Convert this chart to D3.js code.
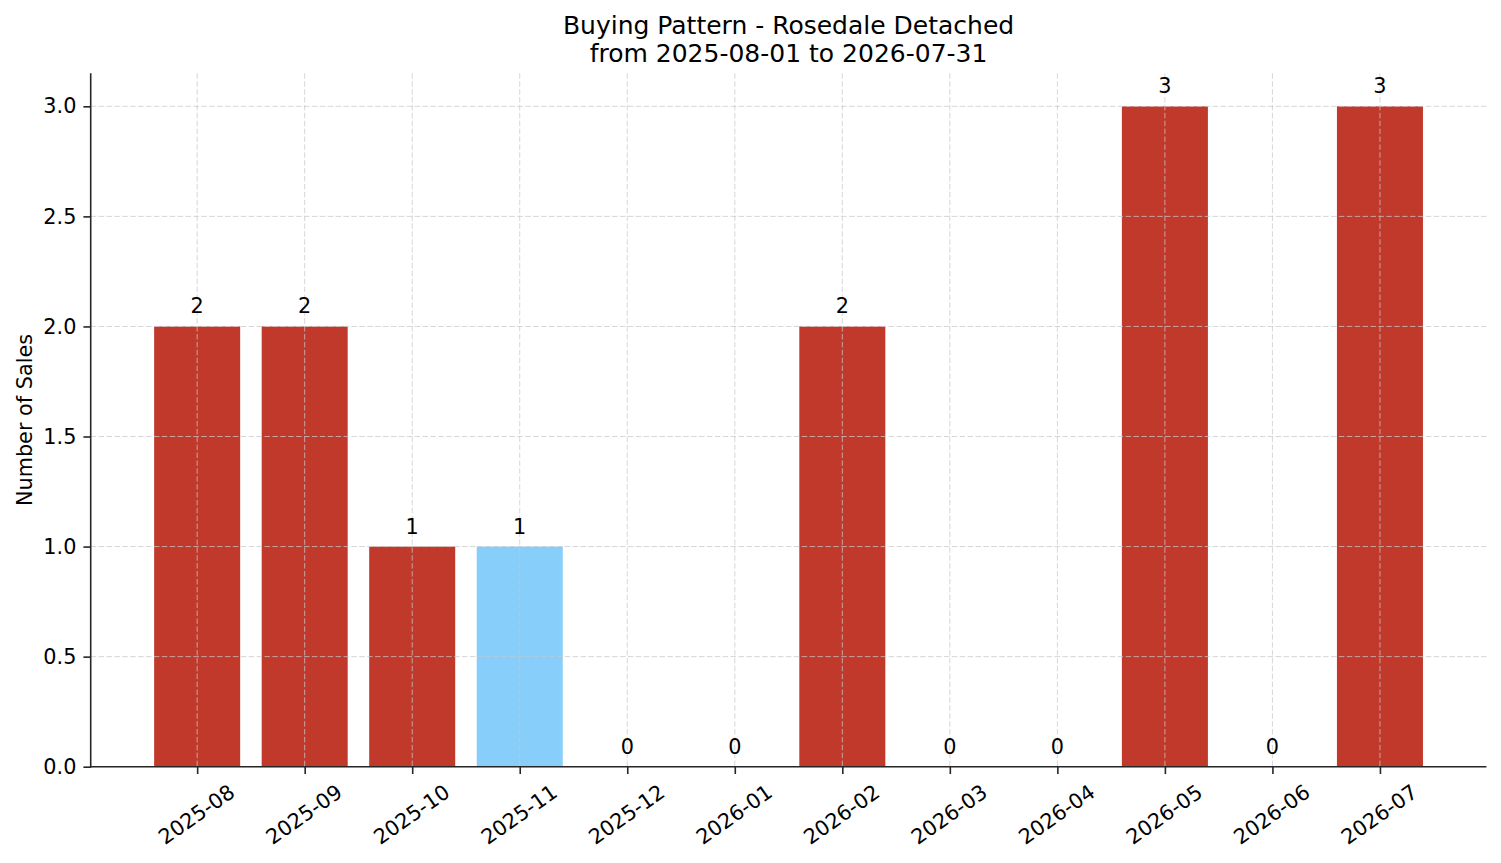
<!DOCTYPE html>
<html>
<head>
<meta charset="utf-8">
<script src="https://cdn.jsdelivr.net/npm/d3@7"></script>
<style>
  html, body { margin: 0; padding: 0; background: #fff; }
  svg { display: block; font-family: "DejaVu Sans", sans-serif; }
</style>
</head>
<body>
<svg id="chart" width="1501" height="863"></svg>
<script>
const months = ["2025-08","2025-09","2025-10","2025-11","2025-12","2026-01","2026-02","2026-03","2026-04","2026-05","2026-06","2026-07"];
const sales = [2, 2, 1, 1, 0, 0, 2, 0, 0, 3, 0, 3];
const highlight = ["2025-11"];
const yTicks = [0, 0.5, 1.0, 1.5, 2.0, 2.5, 3.0];
const titleLines = ["Buying Pattern - Rosedale Detached", "from 2025-08-01 to 2026-07-31"];
const yLabel = "Number of Sales";

(function () {
const svg = d3.select("#chart");
const pLeft = 90.7, pRight = 1486.4, pTop = 73.3, pBottom = 766.7;
const tickFont = 20.8;
const tickLen = 7.3;

const x = d3.scaleLinear().domain([-0.99, months.length - 1 + 0.99]).range([pLeft, pRight]);
const y = d3.scaleLinear().domain([0, 3.15]).range([pBottom, pTop]);
const barW = x(0.8) - x(0);

// bars
svg.append("g").selectAll("rect").data(sales).join("rect")
  .attr("x", (d, i) => x(i - 0.4))
  .attr("y", d => y(d))
  .attr("width", barW)
  .attr("height", d => y(0) - y(d))
  .attr("fill", (d, i) => highlight.includes(months[i]) ? "#87cefa" : "#c0392b");

// grid (drawn over bars)
const grid = svg.append("g").attr("stroke", "#c8c8c8").attr("stroke-opacity", 0.75)
  .attr("stroke-width", 1).attr("stroke-dasharray", "5.5,2.4").attr("fill", "none");
grid.selectAll("line.h").data(yTicks).join("line").attr("class", "h")
  .attr("x1", pLeft).attr("x2", pRight).attr("y1", d => y(d)).attr("y2", d => y(d));
grid.selectAll("line.v").data(months).join("line").attr("class", "v")
  .attr("x1", (d, i) => x(i)).attr("x2", (d, i) => x(i)).attr("y1", pTop).attr("y2", pBottom);

// value labels
svg.append("g").selectAll("text").data(sales).join("text")
  .attr("x", (d, i) => x(i))
  .attr("y", d => y(d) - 13)
  .attr("text-anchor", "middle")
  .attr("font-size", tickFont)
  .attr("fill", "#000")
  .text(d => d);

// y axis
const yAxis = d3.axisLeft(y).tickValues(yTicks).tickFormat(d3.format(".1f")).tickSize(tickLen).tickPadding(7);
const yg = svg.append("g").attr("transform", `translate(${pLeft},0)`).call(yAxis);
yg.select(".domain").remove();
yg.selectAll(".tick line").attr("stroke", "#262626").attr("stroke-width", 1.6);
yg.selectAll(".tick text").attr("font-size", tickFont).attr("fill", "#000").attr("font-family", "DejaVu Sans");

// x axis
const xAxis = d3.axisBottom(x).tickValues(d3.range(months.length)).tickFormat(i => months[i]).tickSize(tickLen).tickPadding(0);
const xg = svg.append("g").attr("transform", `translate(0,${pBottom})`).call(xAxis);
xg.select(".domain").remove();
xg.selectAll(".tick line").attr("stroke", "#262626").attr("stroke-width", 1.6);
const ang = 35, rad = ang * Math.PI / 180;
xg.selectAll(".tick text").each(function () {
  const t = d3.select(this);
  t.attr("font-size", tickFont).attr("fill", "#000").attr("font-family", "DejaVu Sans")
   .attr("dy", null).attr("y", null);
  const L = this.getComputedTextLength();
  const h = tickFont * 1.17;
  const boxH = L * Math.sin(rad) + h * Math.cos(rad);
  const cy = tickLen + 7.3 + boxH / 2 - 1.5;
  t.attr("text-anchor", "middle").attr("dominant-baseline", "central")
   .attr("transform", `translate(-1,${cy}) rotate(${-ang})`);
});

// spines
svg.append("line").attr("x1", pLeft).attr("x2", pLeft).attr("y1", pTop).attr("y2", pBottom + 0.8)
  .attr("stroke", "#262626").attr("stroke-width", 1.6);
svg.append("line").attr("x1", pLeft - 0.8).attr("x2", pRight).attr("y1", pBottom).attr("y2", pBottom)
  .attr("stroke", "#262626").attr("stroke-width", 1.6);

// y label
svg.append("text")
  .attr("transform", `translate(31.5,${(pTop + pBottom) / 2}) rotate(-90)`)
  .attr("text-anchor", "middle")
  .attr("font-size", tickFont)
  .attr("fill", "#000")
  .text(yLabel);

// title
svg.append("g").selectAll("text").data(titleLines).join("text")
  .attr("x", (pLeft + pRight) / 2)
  .attr("y", (d, i) => 33.5 + i * 28.4)
  .attr("text-anchor", "middle")
  .attr("font-size", 25)
  .attr("fill", "#000")
  .text(d => d);
})();
</script>
</body>
</html>
